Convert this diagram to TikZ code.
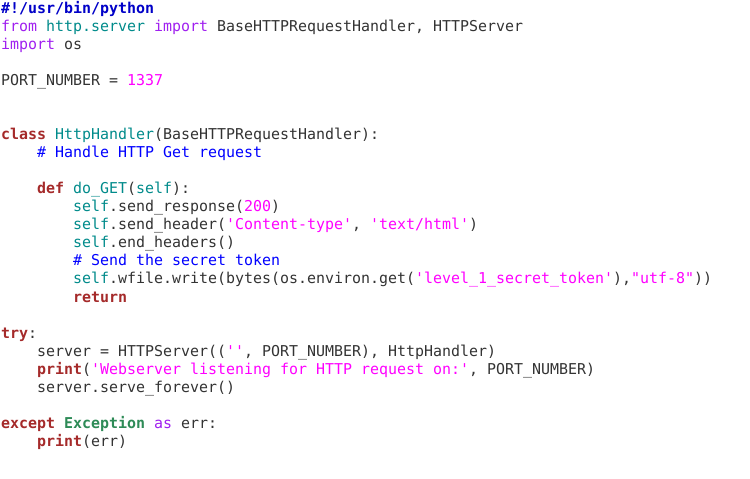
\documentclass[tikz,border=0pt]{standalone}
\usepackage{fontspec}
\setmonofont{DejaVu Sans Mono}
\definecolor{txt}{HTML}{333333}
\definecolor{prec}{HTML}{A020F0}
\definecolor{idec}{HTML}{008B8B}
\definecolor{conc}{HTML}{FF00FF}
\definecolor{cmtc}{HTML}{0000FF}
\definecolor{stmc}{HTML}{A52A2A}
\definecolor{typc}{HTML}{2E8B57}
\definecolor{shbc}{HTML}{0000C8}
\newcommand\pre[1]{{\color{prec}#1}}
\newcommand\ide[1]{{\color{idec}#1}}
\newcommand\con[1]{{\color{conc}#1}}
\newcommand\cmt[1]{{\color{cmtc}#1}}
\newcommand\stm[1]{{\bfseries\color{stmc}#1}}
\newcommand\typ[1]{{\bfseries\color{typc}#1}}
\newcommand\shb[1]{{\bfseries\color{shbc}#1}}
\tikzset{codeline/.style={anchor=base west,inner sep=0pt,outer sep=0pt,text=txt,
  font=\ttfamily\fontsize{14.95bp}{18bp}\selectfont}}
\newcommand\cw{9.0}
\begin{document}
\begin{tikzpicture}[x=1bp,y=-1bp]
\fill[white] (0,0) rectangle (750,479);
\useasboundingbox (0,0) rectangle (750,479);
\node[codeline] (l1) at (1,14) {\shb{\#!/usr/bin/python}};
\node[codeline] (l2) at (1,32) {\pre{from} \ide{http.server} \pre{import} BaseHTTPRequestHandler, HTTPServer};
\node[codeline] (l3) at (1,50) {\pre{import} os};
\node[codeline] (l5) at (1,86) {PORT\_NUMBER = \con{1337}};
\node[codeline] (l8) at (1,140) {\stm{class} \ide{HttpHandler}(BaseHTTPRequestHandler):};
\node[codeline] (l9) at ({1+4*\cw},158) {\cmt{\# Handle HTTP Get request}};
\node[codeline] (l11) at ({1+4*\cw},194) {\stm{def} \ide{do\_GET}(\ide{self}):};
\node[codeline] (l12) at ({1+8*\cw},212) {\ide{self}.send\_response(\con{200})};
\node[codeline] (l13) at ({1+8*\cw},230) {\ide{self}.send\_header(\con{'Content-type'}, \con{'text/html'})};
\node[codeline] (l14) at ({1+8*\cw},248) {\ide{self}.end\_headers()};
\node[codeline] (l15) at ({1+8*\cw},266) {\cmt{\# Send the secret token}};
\node[codeline] (l16) at ({1+8*\cw},284) {\ide{self}.wfile.write(bytes(os.environ.get(\con{'level\_1\_secret\_token'}),\con{"utf-8"}))};
\node[codeline] (l17) at ({1+8*\cw},302) {\stm{return}};
\node[codeline] (l19) at (1,338) {\stm{try}:};
\node[codeline] (l20) at ({1+4*\cw},356) {server = HTTPServer((\con{''}, PORT\_NUMBER), HttpHandler)};
\node[codeline] (l21) at ({1+4*\cw},374) {\stm{print}(\con{'Webserver listening for HTTP request on:'}, PORT\_NUMBER)};
\node[codeline] (l22) at ({1+4*\cw},392) {server.serve\_forever()};
\node[codeline] (l24) at (1,428) {\stm{except} \typ{Exception} \pre{as} err:};
\node[codeline] (l25) at ({1+4*\cw},446) {\stm{print}(err)};
\end{tikzpicture}
\end{document}
